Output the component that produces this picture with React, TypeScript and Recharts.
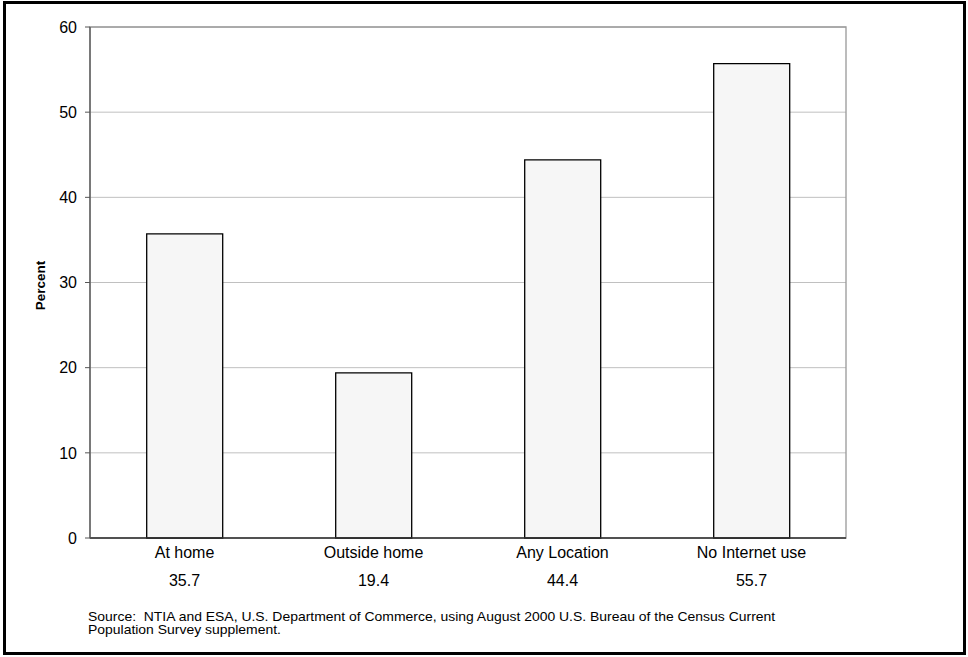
import React from 'react';
import { BarChart, Bar, XAxis, YAxis, CartesianGrid, ReferenceArea } from 'recharts';

const categories = ['At home', 'Outside home', 'Any Location', 'No Internet use'];
const percents = [35.7, 19.4, 44.4, 55.7];
const yTicks = [0, 10, 20, 30, 40, 50, 60];
const sourceLines = [
    'Source:\u00a0 NTIA and ESA, U.S. Department of Commerce, using August 2000 U.S. Bureau of the Census Current',
    'Population Survey supplement.',
];

const data = categories.map((name, i) => ({ name, value: percents[i] }));

const FONT = '"Liberation Sans", Arial, sans-serif';

const CategoryTick = ({ x, y, payload, index }: any) => (
    <g>
        <text x={x} y={y} dy={20} textAnchor="middle" fontSize={16} fill="#000" fontFamily={FONT}>
            {payload.value}
        </text>
        <text x={x} y={y} dy={48} textAnchor="middle" fontSize={16} fill="#000" fontFamily={FONT}>
            {percents[index].toFixed(1)}
        </text>
    </g>
);

const PercentLabel = ({ viewBox }: any) => {
    const cx = 40;
    const cy = viewBox.y + viewBox.height / 2 + 3;
    return (
        <text x={cx} y={cy} transform={`rotate(-90, ${cx}, ${cy})`} textAnchor="middle" dominantBaseline="central"
            fontSize={13.5} fontWeight="bold" fill="#000" fontFamily={FONT}>
            Percent
        </text>
    );
};

export default function App() {
    return (
        <div style={{ position: 'absolute', left: 0, top: 0, width: 968, height: 657, background: '#fff', fontFamily: FONT }}>
            <div style={{ position: 'absolute', left: 3, top: 1, width: 963, height: 654, border: '3px solid #000', boxSizing: 'border-box' }} />
            <div style={{ position: 'absolute', left: 0, top: 0 }}>
                <BarChart width={968} height={657} data={data} margin={{ top: 27, right: 122, left: 40, bottom: 59 }}
                    barCategoryGap="30%">
                    <CartesianGrid vertical={false} stroke="#c0c0c0" />
                    <ReferenceArea y1={0} y2={60} fill="none" stroke="#999" strokeWidth={1.3} />
                    <XAxis dataKey="name" height={60} tickLine={false} tickSize={0} tickMargin={0}
                        axisLine={{ stroke: '#333', strokeWidth: 1.3 }} tick={<CategoryTick />} interval={0} />
                    <YAxis width={50} domain={[0, 60]} ticks={yTicks} tickSize={5} tickMargin={8}
                        axisLine={{ stroke: '#555', strokeWidth: 1.3 }} tickLine={{ stroke: '#555' }}
                        tick={{ fontSize: 16, fill: '#000', fontFamily: FONT }} label={<PercentLabel />} />
                    <Bar dataKey="value" fill="#f6f6f6" stroke="#000" strokeWidth={1.3} isAnimationActive={false} />
                </BarChart>
            </div>
            {sourceLines.map((line, i) => (
                <div key={i} style={{
                    position: 'absolute', left: 88, top: 611 + i * 12.5, fontSize: 13.95, lineHeight: '12px',
                    color: '#000', whiteSpace: 'nowrap', transform: 'scaleY(0.9)', transformOrigin: 'left center',
                }}>
                    {line}
                </div>
            ))}
        </div>
    );
}
